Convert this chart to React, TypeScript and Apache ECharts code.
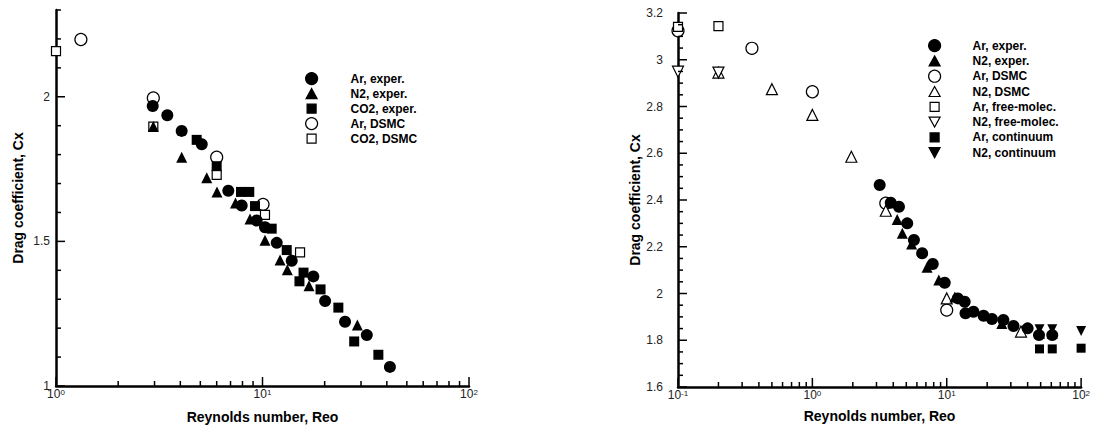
import React, { useEffect, useRef } from 'react';
import * as echarts from 'echarts';

// ---------- Left panel: [Re, Cx] ----------
const leftArExper = [[2.94,1.968],[3.46,1.936],[4.06,1.882],[5.08,1.836],[6.83,1.675],[7.93,1.624],[9.37,1.572],[10.28,1.549],[11.72,1.495],[13.85,1.433],[17.62,1.379],[20.1,1.294],[25.1,1.222],[32.0,1.176],[41.4,1.066]];
const leftN2Exper = [[2.96,1.897],[4.06,1.791],[5.37,1.72],[6.02,1.671],[7.4,1.633],[8.7,1.577],[10.28,1.504],[12.16,1.436],[13.19,1.402],[16.8,1.347],[28.8,1.211]];
const leftCO2Exper = [[4.8,1.851],[6.0,1.76],[7.87,1.671],[8.63,1.671],[9.2,1.622],[11.08,1.544],[13.1,1.47],[15.8,1.392],[15.1,1.362],[19.1,1.334],[23.3,1.271],[27.8,1.154],[36.4,1.108]];
const leftArDSMC = [[1.32,2.198],[2.96,1.996],[6.0,1.791],[10.06,1.628]];
const leftCO2DSMC = [[1.0,2.158],[2.96,1.897],[6.0,1.73],[10.28,1.592],[15.2,1.462]];

// ---------- Right panel: [Re, Cx] ----------
const rightArExper = [[3.17,2.464],[3.83,2.388],[4.41,2.371],[5.08,2.3],[5.7,2.229],[6.56,2.172],[7.87,2.126],[9.66,2.046],[12.1,1.979],[13.6,1.965],[13.8,1.915],[15.8,1.922],[18.8,1.905],[21.7,1.891],[26.4,1.887],[31.4,1.861],[40.0,1.851],[48.6,1.822],[61.0,1.822]];
const rightN2Exper = [[4.28,2.317],[4.67,2.258],[5.48,2.212],[7.14,2.112],[8.73,2.058],[11.5,1.985],[25.7,1.872],[49,1.83],[61,1.83]];
const rightArDSMC = [[0.1,3.124],[0.355,3.049],[1.0,2.863],[3.52,2.386],[10,1.929]];
const rightN2DSMC = [[0.2,2.945],[0.5,2.874],[1.0,2.764],[1.95,2.585],[3.52,2.354],[10,1.979],[35.7,1.837]];
const rightArFree = [[0.1,3.141],[0.2,3.144]];
const rightN2Free = [[0.1,2.949],[0.2,2.945]];
const rightArCont = [[49,1.763],[61,1.763],[100,1.766]];
const rightN2Cont = [[49,1.847],[61,1.847],[100,1.84]];

// ---------- Ticks ----------
const leftXMajor = [1, 10, 100];
const leftXMinor = [2,3,4,5,6,7,8,9,20,30,40,50,60,70,80,90];
const rightXMajor = [0.1, 1, 10, 100];
const rightXMinor = [0.2,0.3,0.4,0.5,0.6,0.7,0.8,0.9,2,3,4,5,6,7,8,9,20,30,40,50,60,70,80,90];
const leftYMajor = [1, 1.5, 2];
const leftYMinor = [1.1,1.2,1.3,1.4,1.6,1.7,1.8,1.9,2.1,2.2,2.3];
const rightYMajor = [1.6,1.8,2,2.2,2.4,2.6,2.8,3,3.2];
const rightYMinor = [1.65,1.7,1.75,1.85,1.9,1.95,2.05,2.1,2.15,2.25,2.3,2.35,2.45,2.5,2.55,2.65,2.7,2.75,2.85,2.9,2.95,3.05,3.1,3.15];

const FONT = 'Liberation Sans, Arial, Helvetica, sans-serif';

const SQ_ICON = 'path://M0,0M12,12M1.5,1.5L10.5,1.5L10.5,10.5L1.5,10.5Z';
const TRI_UP_ICON = 'path://M0,0M12,12M6,1L11.5,11L0.5,11Z';
const TRI_DN_ICON = 'path://M0,0M12,12M0.5,1L11.5,1L6,11Z';

export default function App() {
  const ref = useRef<HTMLDivElement>(null);
  useEffect(() => {
    if (!ref.current) return;
    const chart = echarts.init(ref.current, undefined, { renderer: 'svg' });

    const supFmt = (v: number) => `10{e|${Math.round(Math.log10(v))}}`;
    const xLabel = {
      formatter: supFmt,
      margin: 2,
      color: '#222',
      fontSize: 12,
      fontFamily: FONT,
      rich: { e: { fontSize: 8, verticalAlign: 'top', fontFamily: FONT, color: '#222', padding: [0, 0, 4, 0] } },
    };
    const axisLine = { show: true, lineStyle: { color: '#000', width: 2.5 } };
    const nameStyle = { fontSize: 14, fontWeight: 'bold', color: '#000', fontFamily: FONT };

    const filled = { color: '#000', borderColor: '#000', borderWidth: 0, opacity: 1 };
    const open = { color: '#fff', borderColor: '#000', borderWidth: 1.2, opacity: 1 };

    const mk = (name: string, data: number[][], xi: number, yi: number, symbol: string, size: number, style: any, rot = 0) => ({
      type: 'scatter', name, data, xAxisIndex: xi, yAxisIndex: yi, symbol, symbolSize: size, symbolRotate: rot,
      itemStyle: style, z: 3,
    });

    // Tick marks drawn through the axes' scales with a custom series.
    // data item: [xValue, yValue, length, dir]  dir 0 = vertical (x tick), 1 = horizontal (y tick)
    const tickSeries = (name: string, xi: number, yi: number, data: number[][]) => ({
      type: 'custom', name, xAxisIndex: xi, yAxisIndex: yi, data, clip: false, silent: true, z: 5,
      renderItem: (params: any, api: any) => {
        const p = api.coord([api.value(0), api.value(1)]);
        const len = api.value(2);
        const horiz = api.value(3) === 1;
        return {
          type: 'line',
          shape: horiz
            ? { x1: p[0], y1: p[1], x2: p[0] + len, y2: p[1] }
            : { x1: p[0], y1: p[1], x2: p[0], y2: p[1] - len },
          style: { stroke: '#000', lineWidth: 1.5 },
        };
      },
    });
    const xTicks = (vals: number[], yBase: number, len: number) => vals.map((v) => [v, yBase, len, 0]);
    const yTicks = (vals: number[], xBase: number, len: number) => vals.map((v) => [xBase, v, len, 1]);

    const legendCommon = {
      orient: 'vertical', padding: 0, itemWidth: 68, itemHeight: 12, itemGap: 1.8,
      textStyle: { fontSize: 12, fontWeight: 'bold', color: '#000', fontFamily: FONT, lineHeight: 12 },
      itemStyle: { borderWidth: 1.2, borderColor: '#000', opacity: 1 },
      symbolRotate: 0,
      selectedMode: false,
    };

    const option: any = {
      animation: false,
      grid: [
        { left: 56, top: 10, width: 413, height: 381 },
        { left: 678, top: 13, width: 405, height: 374 },
      ],
      legend: [
        {
          ...legendCommon, left: 305, top: 72,
          data: [
            { name: 'Ar, exper.', icon: 'circle' },
            { name: 'N2, exper.', icon: TRI_UP_ICON },
            { name: 'CO2, exper.', icon: SQ_ICON },
            { name: 'Ar, DSMC', icon: 'circle' },
            { name: 'CO2, DSMC', icon: SQ_ICON },
          ],
        },
        {
          ...legendCommon, left: 928, top: 39, itemWidth: 66, itemGap: 2.1,
          data: [
            { name: 'Ar, exper.', icon: 'circle' },
            { name: 'N2, exper.', icon: TRI_UP_ICON },
            { name: 'Ar, DSMC', icon: 'circle' },
            { name: 'N2, DSMC', icon: TRI_UP_ICON },
            { name: 'Ar, free-molec.', icon: SQ_ICON },
            { name: 'N2, free-molec.', icon: TRI_DN_ICON },
            { name: 'Ar, continuum', icon: SQ_ICON },
            { name: 'N2, continuum', icon: TRI_DN_ICON },
          ],
        },
      ],
      xAxis: [
        {
          type: 'log', gridIndex: 0, min: 1, max: 100, position: 'bottom',
          axisLine, axisTick: { show: false }, axisLabel: xLabel, splitLine: { show: false },
          name: 'Reynolds number, Reo', nameLocation: 'middle', nameGap: 24, nameTextStyle: nameStyle,
        },
        {
          type: 'log', gridIndex: 1, min: 0.1, max: 100, position: 'bottom',
          axisLine, axisTick: { show: false }, axisLabel: xLabel, splitLine: { show: false },
          name: 'Reynolds number, Reo', nameLocation: 'middle', nameGap: 22, nameTextStyle: nameStyle,
        },
      ],
      yAxis: [
        {
          type: 'value', gridIndex: 0, min: 1, max: 2.3, position: 'left',
          axisLine, axisTick: { show: false }, splitLine: { show: false },
          axisLabel: { customValues: leftYMajor, margin: 6, color: '#222', fontSize: 12, fontFamily: FONT },
          name: 'Drag coefficient, Cx', nameLocation: 'middle', nameGap: 31, nameTextStyle: nameStyle,
        },
        {
          type: 'value', gridIndex: 1, min: 1.6, max: 3.2, interval: 0.2, position: 'left',
          axisLine, axisTick: { show: false }, splitLine: { show: false },
          axisLabel: { margin: 15, color: '#222', fontSize: 12, fontFamily: FONT },
          name: 'Drag coefficient, Cx', nameLocation: 'middle', nameGap: 32, nameTextStyle: nameStyle,
        },
      ],
      series: [
        // tick marks
        tickSeries('ticks-left-x', 0, 0, [...xTicks(leftXMajor, 1, 9), ...xTicks(leftXMinor, 1, 5)]),
        tickSeries('ticks-left-y', 0, 0, [...yTicks(leftYMajor, 1, 9), ...yTicks(leftYMinor, 1, 5)]),
        tickSeries('ticks-right-x', 1, 1, [...xTicks(rightXMajor, 1.6, 9), ...xTicks(rightXMinor, 1.6, 5)]),
        tickSeries('ticks-right-y', 1, 1, [...yTicks(rightYMajor, 0.1, 9), ...yTicks(rightYMinor, 0.1, 5)]),
        // left panel (open first, filled on top)
        mk('Ar, DSMC', leftArDSMC, 0, 0, 'circle', 12, open),
        mk('CO2, DSMC', leftCO2DSMC, 0, 0, 'rect', 9, open),
        mk('CO2, exper.', leftCO2Exper, 0, 0, 'rect', 10, filled),
        mk('N2, exper.', leftN2Exper, 0, 0, 'triangle', 11, filled),
        mk('Ar, exper.', leftArExper, 0, 0, 'circle', 12, filled),
        // right panel
        mk('Ar, DSMC', rightArDSMC, 1, 1, 'circle', 12, open),
        mk('N2, DSMC', rightN2DSMC, 1, 1, 'triangle', 11, open),
        mk('Ar, free-molec.', rightArFree, 1, 1, 'rect', 9, open),
        mk('N2, free-molec.', rightN2Free, 1, 1, 'triangle', 11, open, 180),
        mk('Ar, continuum', rightArCont, 1, 1, 'rect', 9, filled),
        mk('N2, continuum', rightN2Cont, 1, 1, 'triangle', 10, filled, 180),
        mk('N2, exper.', rightN2Exper, 1, 1, 'triangle', 11, filled),
        mk('Ar, exper.', rightArExper, 1, 1, 'circle', 12, filled),
      ],
    };
    chart.setOption(option);
    return () => chart.dispose();
  }, []);
  return <div ref={ref} style={{ position: 'fixed', left: 0, top: 0, width: 1093, height: 429, background: '#fff' }} />;
}
